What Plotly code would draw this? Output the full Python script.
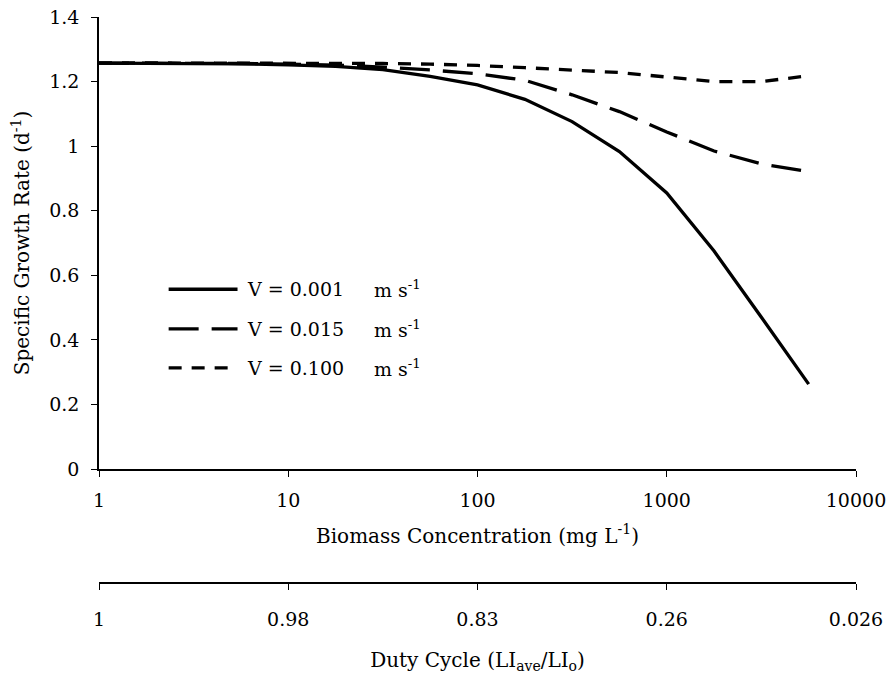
import plotly.graph_objects as go

# Biomass concentration (mg L-1), sampled every quarter decade
biomass = [1, 1.78, 3.16, 5.62, 10, 17.8, 31.6, 56.2, 100, 178, 316, 562, 1000, 1778, 3162, 5623]

# Specific growth rate (d-1) for three mixing velocities
mu_v001 = [1.257, 1.257, 1.256, 1.255, 1.252, 1.247, 1.237, 1.216, 1.190, 1.145, 1.076, 0.983, 0.855, 0.675, 0.470, 0.263]
mu_v015 = [1.257, 1.257, 1.257, 1.256, 1.254, 1.251, 1.245, 1.236, 1.224, 1.204, 1.159, 1.107, 1.044, 0.985, 0.945, 0.921]
mu_v100 = [1.258, 1.258, 1.258, 1.258, 1.257, 1.257, 1.256, 1.254, 1.250, 1.243, 1.236, 1.228, 1.214, 1.200, 1.200, 1.218]

series_names = ["V = 0.001", "V = 0.015", "V = 0.100"]
series_units = "m s<sup>-1</sup>"

# Primary x-axis ticks and the matching duty-cycle labels on the secondary axis
biomass_ticks = [1, 10, 100, 1000, 10000]
biomass_ticktext = ["1", "10", "100", "1000", "10000"]
duty_ticktext = ["1", "0.98", "0.83", "0.26", "0.026"]

growth_ticks = [0, 0.2, 0.4, 0.6, 0.8, 1.0, 1.2, 1.4]
growth_ticktext = ["0", "0.2", "0.4", "0.6", "0.8", "1", "1.2", "1.4"]

FONT = "DejaVu Serif"
FS = 19
FS_TITLE = 20
dashes = ["solid", "30px,13px", "13px,10px"]

fig = go.Figure()
for name, ys, dash in zip(series_names, [mu_v001, mu_v015, mu_v100], dashes):
    fig.add_trace(go.Scatter(
        x=biomass, y=ys, mode="lines", name=name,
        line=dict(color="black", width=3.3, dash=dash),
        showlegend=False, hoverinfo="skip",
    ))

# carrier trace so the duty-cycle axis is drawn
fig.add_trace(go.Scatter(
    x=biomass_ticks, y=[None] * len(biomass_ticks), xaxis="x2", yaxis="y",
    mode="lines", showlegend=False, hoverinfo="skip",
))

# legend: sample lines plus labels
legend_y = [0.519, 0.449, 0.380]
for name, dash, yy in zip(series_names, dashes, legend_y):
    fig.add_shape(type="line", xref="paper", yref="paper",
                  x0=0.092, x1=0.183, y0=yy, y1=yy,
                  line=dict(color="black", width=3.3, dash=dash))
    fig.add_annotation(xref="paper", yref="paper", x=0.193, y=yy,
                       text=name, showarrow=False, xanchor="left", yanchor="middle",
                       font=dict(family=FONT, size=FS, color="black"))
    fig.add_annotation(xref="paper", yref="paper", x=0.360, y=yy,
                       text=series_units, showarrow=False, xanchor="left", yanchor="middle",
                       font=dict(family=FONT, size=FS, color="black"))

axis_common = dict(
    showline=True, linecolor="black", linewidth=1.6,
    ticks="outside", ticklen=6, tickwidth=1.4, tickcolor="black",
    showgrid=False, zeroline=False,
    tickfont=dict(family=FONT, size=FS, color="black"),
)

fig.update_layout(
    width=895, height=677,
    margin=dict(l=99, r=39, t=17, b=94),
    paper_bgcolor="white", plot_bgcolor="white",
    font=dict(family=FONT, size=FS, color="black"),
    xaxis=dict(
        type="log", range=[0, 4], tickvals=biomass_ticks, ticktext=biomass_ticktext,
        anchor="y", ticklabelstandoff=7,
        title=dict(text="Biomass Concentration (mg L<sup>-1</sup>)", standoff=19,
                   font=dict(family=FONT, size=FS_TITLE, color="black")),
        automargin=False,
        **axis_common,
    ),
    xaxis2=dict(
        type="log", range=[0, 4], tickvals=biomass_ticks, ticktext=duty_ticktext,
        overlaying="x", anchor="free", position=0, side="bottom", ticklabelstandoff=13,
        title=dict(text="Duty Cycle (LI<sub>ave</sub>/LI<sub>o</sub>)", standoff=23,
                   font=dict(family=FONT, size=FS_TITLE, color="black")),
        automargin=False,
        **axis_common,
    ),
    yaxis=dict(
        range=[0, 1.4], tickvals=growth_ticks, ticktext=growth_ticktext,
        domain=[0.2014, 1], anchor="x", ticklabelstandoff=8,
        title=dict(text="Specific Growth Rate (d<sup>-1</sup>)", standoff=14,
                   font=dict(family=FONT, size=FS_TITLE, color="black")),
        automargin=False,
        **axis_common,
    ),
)

fig.write_html("out.html")
